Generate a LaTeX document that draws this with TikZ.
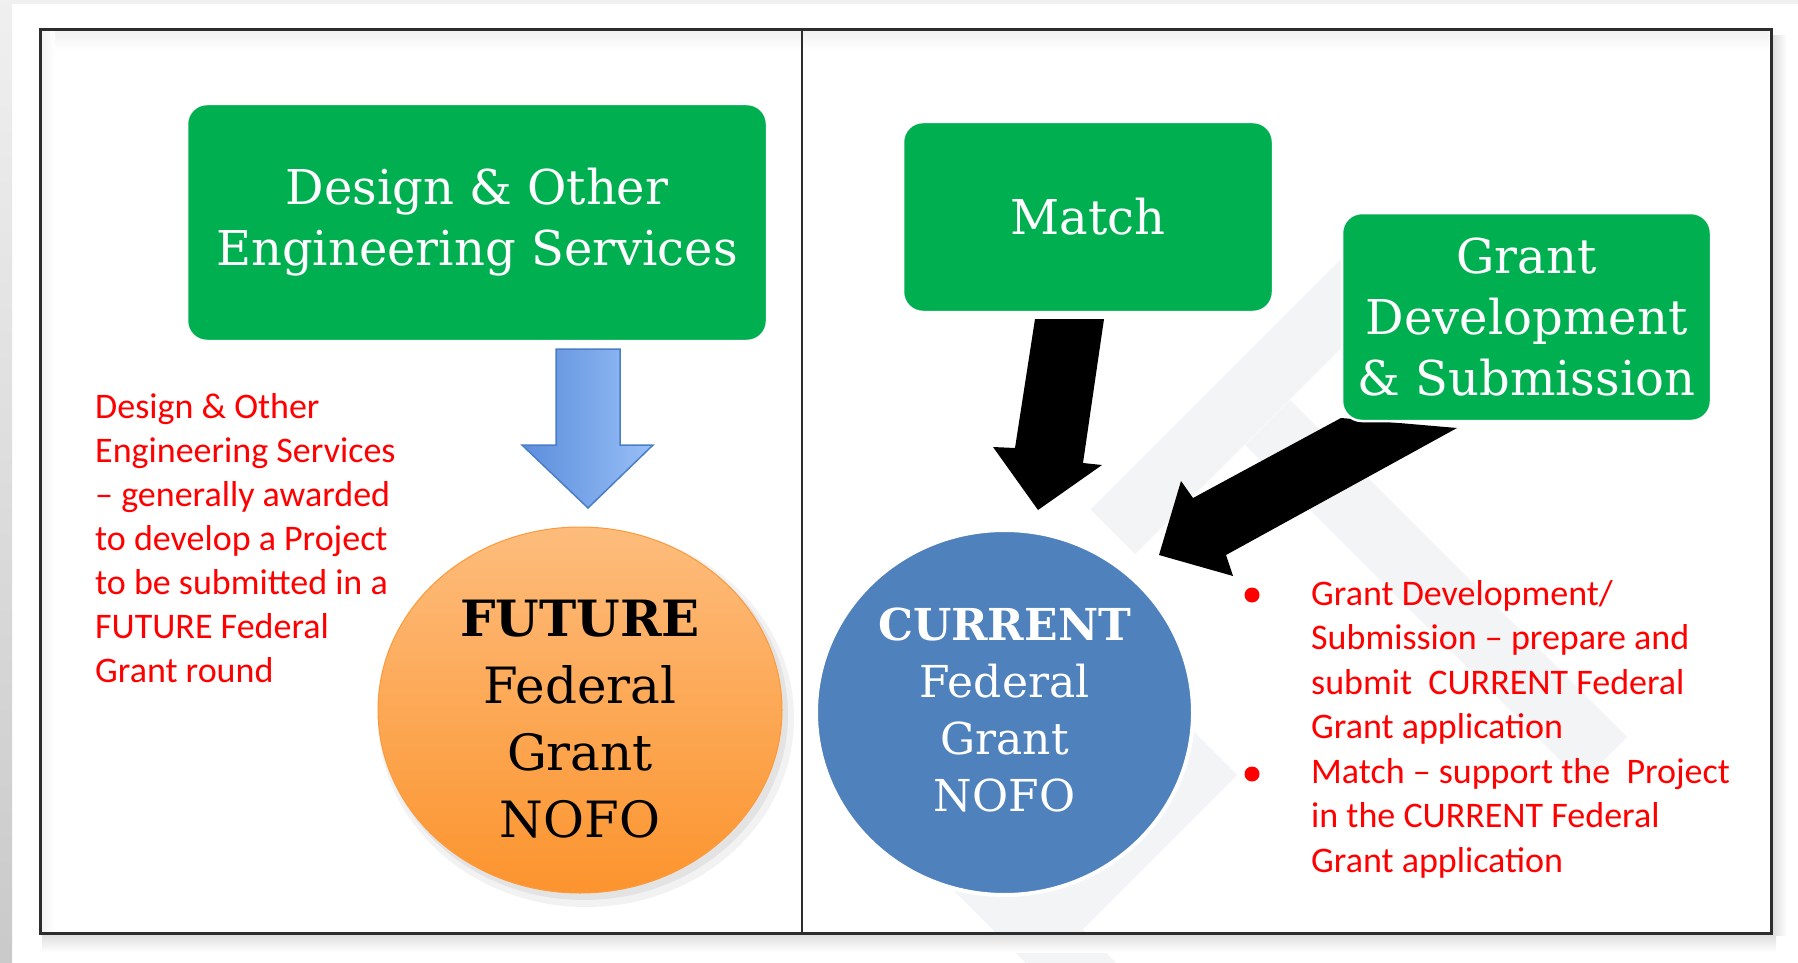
\documentclass[tikz,border=0pt]{standalone}
\usepackage{fontspec}
\setmainfont{DejaVu Serif}
\newfontfamily\calib{Carlito}
\usetikzlibrary{shapes.geometric}
\definecolor{gGreen}{RGB}{0,176,80}
\definecolor{cBlue}{RGB}{79,129,189}
\definecolor{oTop}{RGB}{253,188,124}
\definecolor{oBot}{RGB}{252,148,46}
\definecolor{aL}{RGB}{92,142,220}
\definecolor{aR}{RGB}{152,191,247}
\definecolor{aE}{RGB}{74,125,201}
\definecolor{wmGray}{RGB}{243,244,246}
\definecolor{frameC}{RGB}{45,45,45}
\begin{document}
\begin{tikzpicture}[x=1pt,y=-1pt,
  gbox/.style={rectangle, rounded corners=20pt, fill=gGreen, draw=white, line width=2.5pt,
    text=white, align=center, inner sep=0pt, font=\fontsize{48}{61}\selectfont},
  redline/.style={anchor=base west, inner sep=0pt, text=red, font=\calib\fontsize{36}{44}\selectfont},
  wm/.style={fill=wmGray},
  bul/.style={circle, fill=red, minimum size=15pt, inner sep=0pt},
  blockarrow/.style={fill=black},
]
\useasboundingbox (0,0) rectangle (1798,963);
% page background
\fill[white] (0,0) rectangle (1798,963);
\fill[gray!12] (0,0) rectangle (1798,4);
\shade[top color=gray!12, bottom color=gray!42] (0,0) rectangle (12,963);

% faint watermark bars
\fill[wm] (1090.5,509.5) -- (1135,554) -- (1419.5,269.5) -- (1375,225) -- cycle;
\fill[wm] (1245,445) -- (1290,400) -- (1627,737) -- (1582,782) -- cycle;
\fill[wm] (993,930) -- (1037.5,974.5) -- (1237,775) -- (1192.5,730.5) -- cycle;
\fill[wm] (856.5,793.5) -- (901.5,748.5) -- (1151.5,998.5) -- (1106.5,1043.5) -- cycle;

% frame shadows
\shade[top color=gray!10, bottom color=white] (42,32) rectangle (1769,50);
\shade[left color=gray!8, right color=white] (42,32) rectangle (55,931);
\shade[top color=gray!25, bottom color=white] (42,935) rectangle (1776,952);
\shade[left color=gray!25, right color=white] (1773,36) rectangle (1787,935);

% frame
\draw[line width=3pt, frameC] (40,30) rectangle (1771,933);
\draw[line width=1.6pt, frameC] (802,30) -- (802,933);

% black block arrows
\fill[blockarrow] (1035,319) -- (1104,319) -- (1083,463) -- (1102,465) -- (1038,510) -- (993,447) -- (1015,448) -- cycle;
\fill[blockarrow] (1341,418) -- (1457,428) -- (1226,555) -- (1233,576) -- (1159,555) -- (1181,481) -- (1193,498) -- cycle;

% green boxes
\node[gbox, minimum width=580pt, minimum height=237pt] (des) at (477,222.5) {Design \& Other\\Engineering Services};
\node[gbox, minimum width=370pt, minimum height=190pt] (match) at (1088,217) {Match};
\node[gbox, minimum width=369pt, minimum height=208pt] (gds) at (1526.5,317) {Grant\\Development\\\& Submission};

% blue down arrow
\shadedraw[left color=aL, right color=aR, draw=aE, line width=1.5pt]
  (556,349) -- (620,349) -- (620,445) -- (653,445) -- (588,508) -- (522,445) -- (556,445) -- cycle;

% orange ellipse with shadow
\fill[black, opacity=0.05] (586,718) ellipse [x radius=208, y radius=189];
\fill[black, opacity=0.06] (584,715) ellipse [x radius=204, y radius=185];
\node[ellipse, minimum width=404pt, minimum height=366pt, inner sep=0pt,
      top color=oTop, bottom color=oBot, draw=oBot!85!oTop, line width=1pt] (fut) at (580,710) {};
\node[align=center, inner sep=0pt, text=black, font=\fontsize{50}{67}\selectfont] (futtxt) at (580,719)
  {\textbf{FUTURE}\\Federal\\Grant\\NOFO};

% blue circle
\node[ellipse, minimum width=377pt, minimum height=365pt, inner sep=0pt,
      fill=cBlue, draw=white, line width=4pt] (cur) at (1004.5,712.5) {};
\node[align=center, inner sep=0pt, text=white, font=\fontsize{44}{57.3}\selectfont] (curtxt) at (1004.5,710)
  {\textbf{CURRENT}\\Federal\\Grant\\NOFO};

% red text left
\foreach \t [count=\i] in {Design \& Other, Engineering Services, – generally awarded,
  to develop a Project, to be submitted in a, FUTURE Federal, Grant round}
  \node[redline] (L\i) at (95,{418+44*(\i-1)}) {\t};

% red bullets right
\node[bul] (b1) at (1252,595) {};
\node[bul] (b2) at (1252,774) {};
\foreach \t [count=\i] in {Grant Development/, Submission – prepare and, submit\ \ CURRENT Federal,
  Grant application, Match – support the\ \ Project, in the CURRENT Federal, Grant application}
  \node[redline] (R\i) at (1311,{605+44.5*(\i-1)}) {\t};
\end{tikzpicture}
\end{document}
